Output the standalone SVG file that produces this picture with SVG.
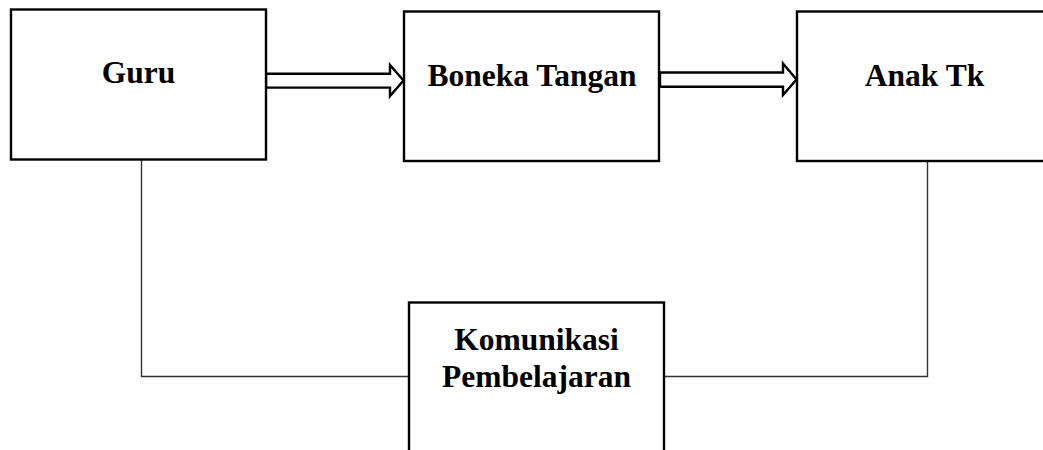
<svg xmlns="http://www.w3.org/2000/svg" width="1043" height="450" viewBox="0 0 1043 450">
<style>
.box{fill:#fff;stroke:#000;stroke-width:2.4}
.lbl{font-family:"Liberation Serif","Times New Roman",serif;font-weight:bold;font-size:31.5px;fill:#000;text-anchor:middle}
.arrow{fill:#fff;stroke:#000;stroke-width:2.4;stroke-linejoin:miter}
.line{fill:none;stroke:#333;stroke-width:1.4}
</style>
<rect x="0" y="0" width="1043" height="450" fill="#fff"/>
<g id="connectors">
<polyline class="line" points="141.5,160 141.5,376.5 409,376.5"/>
<polyline class="line" points="927.5,161 927.5,376.5 664,376.5"/>
<polygon class="arrow" points="266,73.8 390,73.8 390,65 403.5,80.5 390,96 390,87.6 266,87.6"/>
<polygon class="arrow" points="660,72.5 783,72.5 783,63.5 796.5,79.5 783,95 783,86.8 660,86.8"/>
</g>
<g id="guru">
<rect class="box" x="11" y="9.5" width="255" height="150"/>
<text class="lbl" x="138.5" y="83">Guru</text>
</g>
<g id="boneka">
<rect class="box" x="404" y="11.5" width="255" height="149.5"/>
<text class="lbl" x="532" y="86">Boneka Tangan</text>
</g>
<g id="anak">
<rect class="box" x="797" y="11.5" width="260" height="149.5"/>
<text class="lbl" x="924.5" y="86">Anak Tk</text>
</g>
<g id="komunikasi">
<rect class="box" x="409" y="302.5" width="255" height="170"/>
<text class="lbl" x="536.5" y="350">Komunikasi</text>
<text class="lbl" x="536.5" y="387">Pembelajaran</text>
</g>
</svg>
